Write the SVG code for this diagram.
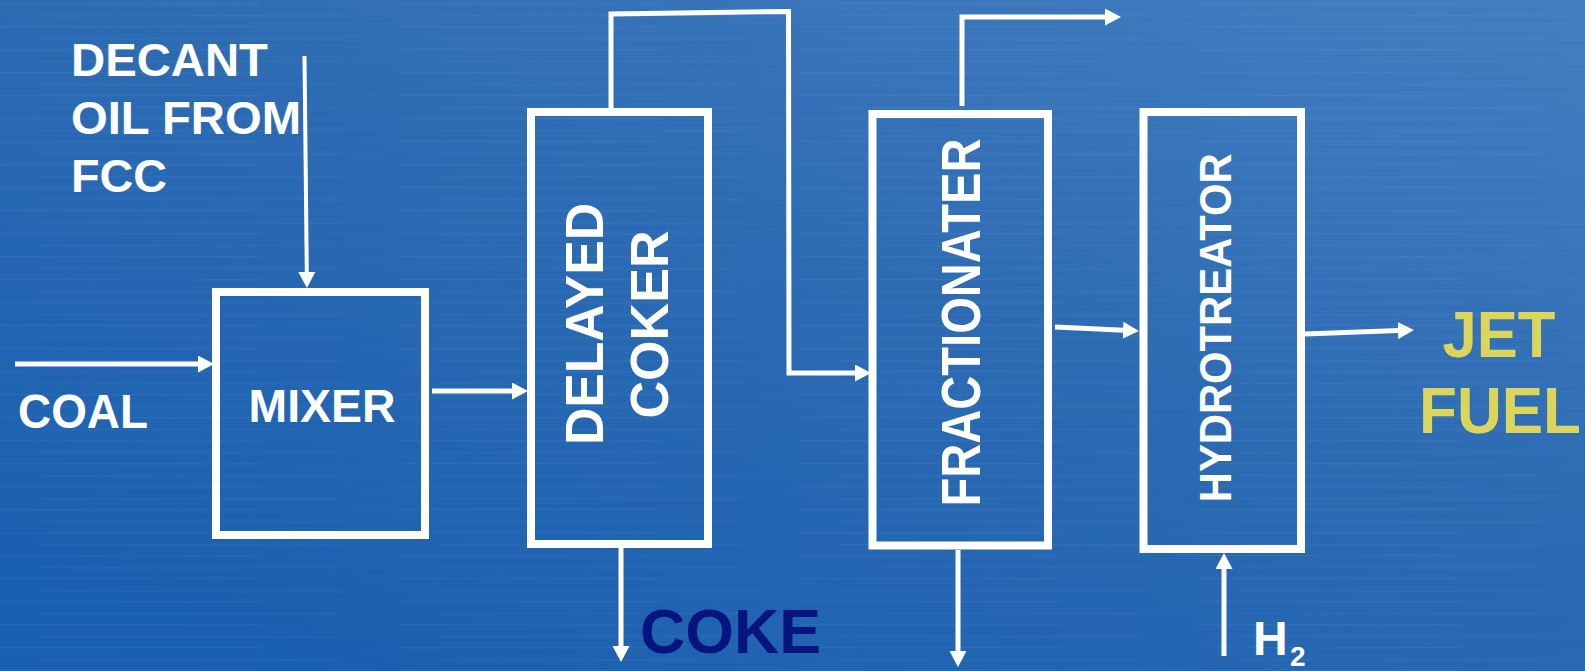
<svg xmlns="http://www.w3.org/2000/svg" width="1585" height="671" viewBox="0 0 1585 671">
  <defs>
    <linearGradient id="bg" x1="1" y1="0" x2="0.2" y2="1">
      <stop offset="0" stop-color="#457fc1"/>
      <stop offset="0.45" stop-color="#2e6cb4"/>
      <stop offset="1" stop-color="#1a60b0"/>
    </linearGradient>
    <pattern id="streaks" width="400" height="23" patternUnits="userSpaceOnUse">
      <rect x="0" y="3" width="260" height="1.2" fill="#ffffff" opacity="0.05"/>
      <rect x="120" y="9" width="240" height="1" fill="#0a3a80" opacity="0.08"/>
      <rect x="40" y="15" width="300" height="1.3" fill="#ffffff" opacity="0.04"/>
      <rect x="200" y="20" width="190" height="1" fill="#0a3a80" opacity="0.07"/>
    </pattern>
    <marker id="arrow" viewBox="0 0 16 17" markerWidth="16" markerHeight="17" refX="1" refY="8.5" orient="auto" markerUnits="userSpaceOnUse">
      <path d="M0,0 L16,8.5 L0,17 z" fill="#ffffff"/>
    </marker>
    <style>
      .box { fill: none; stroke: #ffffff; stroke-width: 8; }
      .conn { fill: none; stroke: #ffffff; stroke-width: 5; stroke-linejoin: miter; }
      .thin { stroke-width: 4; }
      .lbl { font-family: "Liberation Sans", Arial, sans-serif; font-weight: bold; fill: #ffffff; }
      .vlbl { font-family: "Liberation Sans", Arial, sans-serif; font-weight: bold; fill: #ffffff; text-anchor: middle; }
      .jet { font-family: "Liberation Sans", Arial, sans-serif; font-weight: bold; fill: #dcd55b; text-anchor: middle; font-size: 64px; }
      .coke { font-family: "Liberation Sans", Arial, sans-serif; font-weight: bold; fill: #07137f; font-size: 63px; }
    </style>
  </defs>

  <rect x="0" y="0" width="1585" height="671" fill="url(#bg)"/>
  <rect x="0" y="0" width="1585" height="671" fill="url(#streaks)"/>

  <g id="connectors">
    <path class="conn thin" d="M304.5,56 L306.8,273" marker-end="url(#arrow)"/>
    <path class="conn" d="M15,364 L199,364" marker-end="url(#arrow)"/>
    <path class="conn" d="M432,391 L513,391" marker-end="url(#arrow)"/>
    <path class="conn" d="M611,108 L611,14 L788.5,11.5 L789,373 L856,373" marker-end="url(#arrow)"/>
    <path class="conn" d="M962,106 L962,17 L1106,17" marker-end="url(#arrow)"/>
    <path class="conn" d="M1055,327 L1124,330.3" marker-end="url(#arrow)"/>
    <path class="conn" d="M1305,334 L1399,330.5" marker-end="url(#arrow)"/>
    <path class="conn" d="M621,548 L621,647" marker-end="url(#arrow)"/>
    <path class="conn" d="M958,550 L958,652" marker-end="url(#arrow)"/>
    <path class="conn" d="M1224,656 L1224,568" marker-end="url(#arrow)"/>
  </g>

  <g id="decant">
    <text class="lbl" x="71" y="76" font-size="47" textLength="197" lengthAdjust="spacingAndGlyphs">DECANT</text>
    <text class="lbl" x="71" y="134" font-size="47" textLength="230" lengthAdjust="spacingAndGlyphs">OIL FROM</text>
    <text class="lbl" x="71" y="191.7" font-size="47" textLength="96" lengthAdjust="spacingAndGlyphs">FCC</text>
  </g>

  <g id="coal">
    <text class="lbl" x="18" y="428" font-size="48" textLength="130" lengthAdjust="spacingAndGlyphs">COAL</text>
  </g>

  <g id="mixer">
    <rect class="box" x="216" y="292" width="209" height="243"/>
    <text class="lbl" x="248.5" y="421.7" font-size="47" textLength="147" lengthAdjust="spacingAndGlyphs">MIXER</text>
  </g>

  <g id="delayed-coker">
    <rect class="box" x="531" y="112" width="177" height="432"/>
    <text class="vlbl" font-size="53" transform="translate(603.3,324) rotate(-90)" textLength="242" lengthAdjust="spacingAndGlyphs">DELAYED</text>
    <text class="vlbl" font-size="54" transform="translate(668.3,324.5) rotate(-90)" textLength="188" lengthAdjust="spacingAndGlyphs">COKER</text>
  </g>

  <g id="coke">
    <text class="coke" x="640" y="653" textLength="181" lengthAdjust="spacingAndGlyphs">COKE</text>
  </g>

  <g id="fractionater">
    <rect class="box" x="872.5" y="114" width="175.5" height="431.5"/>
    <text class="vlbl" font-size="56" transform="translate(980,322.5) rotate(-90)" textLength="368" lengthAdjust="spacingAndGlyphs">FRACTIONATER</text>
  </g>

  <g id="hydrotreator">
    <rect class="box" x="1143.5" y="112" width="157.5" height="437"/>
    <text class="vlbl" font-size="44" transform="translate(1230.7,327.8) rotate(-90)" textLength="349" lengthAdjust="spacingAndGlyphs">HYDROTREATOR</text>
  </g>

  <g id="h2">
    <text class="lbl" x="1253" y="655" font-size="48">H<tspan x="1290" y="666" font-size="28">2</tspan></text>
  </g>

  <g id="jet-fuel">
    <text class="jet" x="1499" y="356.7" textLength="113" lengthAdjust="spacingAndGlyphs">JET</text>
    <text class="jet" x="1500" y="432.7" textLength="162" lengthAdjust="spacingAndGlyphs">FUEL</text>
  </g>
</svg>
